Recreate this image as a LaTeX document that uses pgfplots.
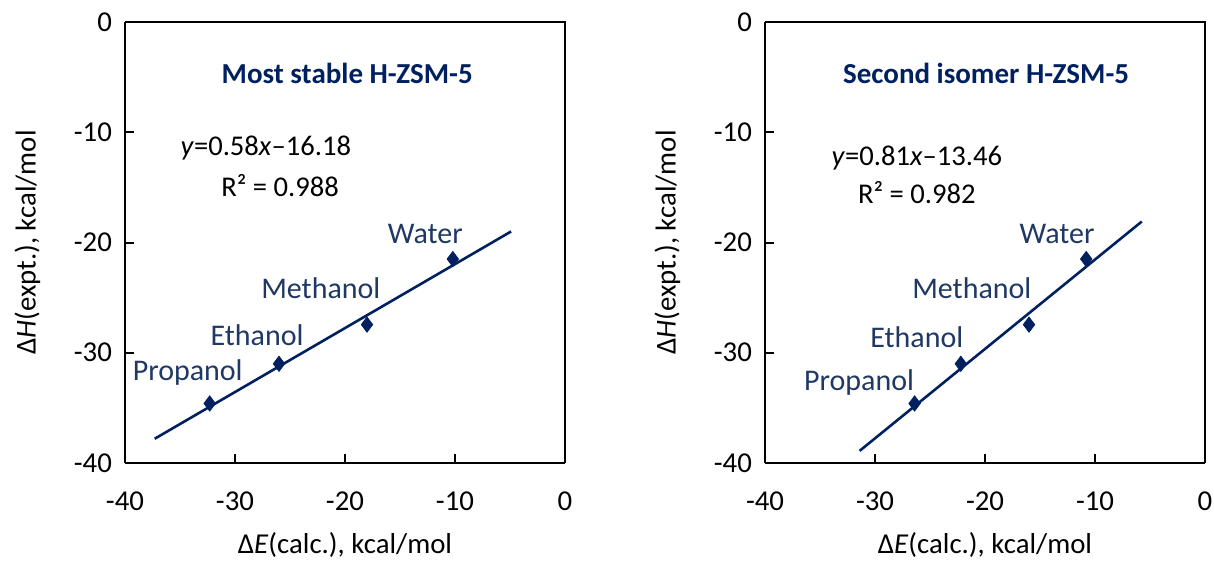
\documentclass[border=0pt]{standalone}
\usepackage{pgfplots}
\pgfplotsset{compat=1.18}
\usepackage{fontspec}
\setmainfont{Carlito}
\definecolor{navy}{HTML}{002060}
\definecolor{lbl}{HTML}{1F3864}
\pgfplotstableread{
x y
-32.3 -34.6
-26.0 -31.0
-18.0 -27.45
-10.2 -21.5
}\leftdata
\pgfplotstableread{
x y
-37.3 -37.8
-4.9 -19.0
}\leftfit
\pgfplotstableread{
x y
-26.4 -34.6
-22.2 -31.0
-16.0 -27.45
-10.8 -21.5
}\rightdata
\pgfplotstableread{
x y
-31.4 -38.9
-5.75 -18.1
}\rightfit
\newcommand\fs[1]{\fontsize{#1}{1.15\dimexpr#1\relax}\selectfont}
\pgfplotsset{
  myax/.style={
    scale only axis, width=220pt, height=220.5pt,
    xmin=-40, xmax=0, ymin=-40, ymax=0,
    xtick={-40,-30,...,0}, ytick={-40,-30,...,0},
    axis line style={line width=1pt}, tick style={line width=1pt, black},
    major tick length=4.5pt,
    axis x line*=bottom, axis y line*=left,
    /pgf/number format/assume math mode=true,
    ticklabel style={font=\fs{14.4pt}},
    xticklabel style={yshift=-11pt},
    yticklabel style={xshift=-3pt},
    label style={font=\fs{14.4pt}},
    xlabel={Δ\textit{E}(calc.), kcal/mol},
    ylabel={Δ\textit{H}(expt.), kcal/mol},
    xlabel style={yshift=-4pt},
    ylabel style={yshift=10pt},
    clip=false,
  }
}
\begin{document}
\begin{tikzpicture}
\useasboundingbox (-62.5pt,-49.5pt) rectangle (544.5pt,231.5pt);
\begin{axis}[myax]
  \draw[line width=1pt] (axis cs:-40,0) -- (axis cs:0,0) -- (axis cs:0,-40);
  \addplot[navy, line width=1.3pt, no marks] table {\leftfit};
  \addplot[only marks, mark=diamond*, mark size=3.8pt, navy] table {\leftdata};
  \node[font=\fs{14.5pt}\bfseries, text=navy] at (axis cs:-19.8,-4.7) {Most stable H-ZSM-5};
  \node[font=\fs{14.3pt}] at (axis cs:-27.2,-11.4) {\textit{y}=0.58\textit{x}–16.18};
  \node[font=\fs{14.3pt}] at (axis cs:-25.9,-14.8) {R² = 0.988};
  \node[font=\fs{15pt}, text=lbl] at (axis cs:-12.7,-19.2) {Water};
  \node[font=\fs{15pt}, text=lbl] at (axis cs:-22.2,-24.1) {Methanol};
  \node[font=\fs{15pt}, text=lbl] at (axis cs:-28.0,-28.4) {Ethanol};
  \node[font=\fs{15pt}, text=lbl] at (axis cs:-34.3,-31.8) {Propanol};
\end{axis}
\begin{axis}[myax, xshift=320pt]
  \draw[line width=1pt] (axis cs:-40,0) -- (axis cs:0,0) -- (axis cs:0,-40);
  \addplot[navy, line width=1.3pt, no marks] table {\rightfit};
  \addplot[only marks, mark=diamond*, mark size=3.8pt, navy] table {\rightdata};
  \node[font=\fs{14.5pt}\bfseries, text=navy] at (axis cs:-19.9,-4.7) {Second isomer H-ZSM-5};
  \node[font=\fs{14.3pt}] at (axis cs:-26.2,-12.3) {\textit{y}=0.81\textit{x}–13.46};
  \node[font=\fs{14.3pt}] at (axis cs:-26.2,-15.5) {R² = 0.982};
  \node[font=\fs{15pt}, text=lbl] at (axis cs:-13.45,-19.2) {Water};
  \node[font=\fs{15pt}, text=lbl] at (axis cs:-21.2,-24.1) {Methanol};
  \node[font=\fs{15pt}, text=lbl] at (axis cs:-26.2,-28.6) {Ethanol};
  \node[font=\fs{15pt}, text=lbl] at (axis cs:-31.45,-32.7) {Propanol};
\end{axis}
\end{tikzpicture}
\end{document}
